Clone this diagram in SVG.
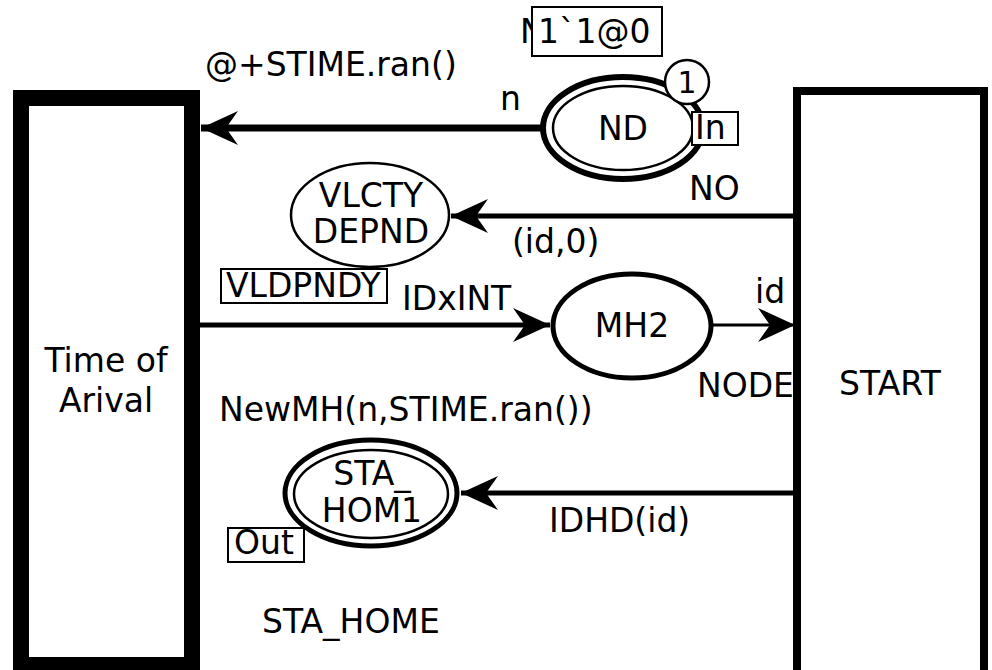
<svg xmlns="http://www.w3.org/2000/svg" width="992" height="670" viewBox="0 0 992 670">
  <style>
    text { font-family: "DejaVu Sans", "Verdana", sans-serif; font-size: 33px; fill: #000; }
    .mid { text-anchor: middle; }
    .box { fill: #fff; stroke: #000; stroke-width: 2; }
    .place { fill: #fff; stroke: #000; }
    .arc { fill: none; stroke: #000; }
  </style>
  <defs>
    <marker id="head" markerUnits="userSpaceOnUse" viewBox="-40 -19 42 38" refX="0" refY="0" markerWidth="42" markerHeight="38" orient="auto">
      <path d="M0,0 L-37,-17 L-25,0 L-37,17 Z" fill="#000"/>
    </marker>
  </defs>

  <rect width="992" height="670" fill="#fff"/>

  <!-- transitions -->
  <g id="time-of-arival">
    <rect x="21" y="98" width="171" height="567" fill="#fff" stroke="#000" stroke-width="16"/>
    <text class="mid" x="106" y="372">Time of</text>
    <text class="mid" x="106" y="412">Arival</text>
  </g>
  <g id="start">
    <rect x="797" y="91" width="187" height="585" fill="#fff" stroke="#000" stroke-width="8"/>
    <text class="mid" x="890" y="395">START</text>
  </g>

  <!-- connectors -->
  <g id="arcs">
    <line class="arc" x1="543" y1="128" x2="201" y2="128" stroke-width="7" marker-end="url(#head)"/>
    <line class="arc" x1="797" y1="216" x2="451" y2="216" stroke-width="5" marker-end="url(#head)"/>
    <line class="arc" x1="192" y1="325" x2="550" y2="325" stroke-width="5" marker-end="url(#head)"/>
    <line class="arc" x1="712" y1="325" x2="795" y2="325" stroke-width="3" marker-end="url(#head)"/>
    <line class="arc" x1="797" y1="493" x2="461" y2="493" stroke-width="5" marker-end="url(#head)"/>
  </g>

  <!-- arc inscriptions -->
  <g id="arc-labels">
    <text x="205" y="76">@+STIME.ran()</text>
    <text x="500" y="110">n</text>
    <text x="689" y="200">NO</text>
    <text x="512" y="253">(id,0)</text>
    <text x="402" y="310">IDxINT</text>
    <text x="755" y="303">id</text>
    <text x="219" y="421">NewMH(n,STIME.ran())</text>
    <text x="549" y="532">IDHD(id)</text>
  </g>

  <!-- places -->
  <g id="nd">
    <text x="520" y="43">N</text>
    <rect class="box" x="532" y="7" width="130" height="49"/>
    <text x="538" y="43">1`1@0</text>
    <ellipse class="place" cx="623" cy="128" rx="80" ry="51" stroke-width="6"/>
    <ellipse class="place" cx="623" cy="128" rx="70" ry="42" stroke-width="2.5"/>
    <text class="mid" x="623" y="140">ND</text>
    <circle cx="687" cy="82" r="22" fill="#fff" stroke="#000" stroke-width="2.5"/>
    <text class="mid" x="687" y="93" style="font-size:30px">1</text>
    <rect class="box" x="692" y="112" width="46" height="33"/>
    <text x="695" y="139">In</text>
  </g>

  <g id="vlcty-depnd">
    <ellipse class="place" cx="370" cy="215" rx="79" ry="52" stroke-width="2.5"/>
    <text class="mid" x="371" y="207">VLCTY</text>
    <text class="mid" x="371" y="243">DEPND</text>
    <rect class="box" x="221" y="269" width="166" height="34"/>
    <text x="226" y="297">VLDPNDY</text>
  </g>

  <g id="mh2">
    <ellipse class="place" cx="632" cy="326" rx="79" ry="52" stroke-width="5"/>
    <text class="mid" x="632" y="337">MH2</text>
    <text x="697" y="397">NODE</text>
  </g>

  <g id="sta-hom1">
    <ellipse class="place" cx="371" cy="493" rx="86" ry="53" stroke-width="5"/>
    <ellipse class="place" cx="371" cy="494" rx="77" ry="44" stroke-width="2.5"/>
    <text class="mid" x="372" y="485">STA_</text>
    <text class="mid" x="372" y="522">HOM1</text>
    <rect class="box" x="228" y="528" width="76" height="34"/>
    <text x="234" y="554">Out</text>
    <text x="262" y="633">STA_HOME</text>
  </g>
</svg>
